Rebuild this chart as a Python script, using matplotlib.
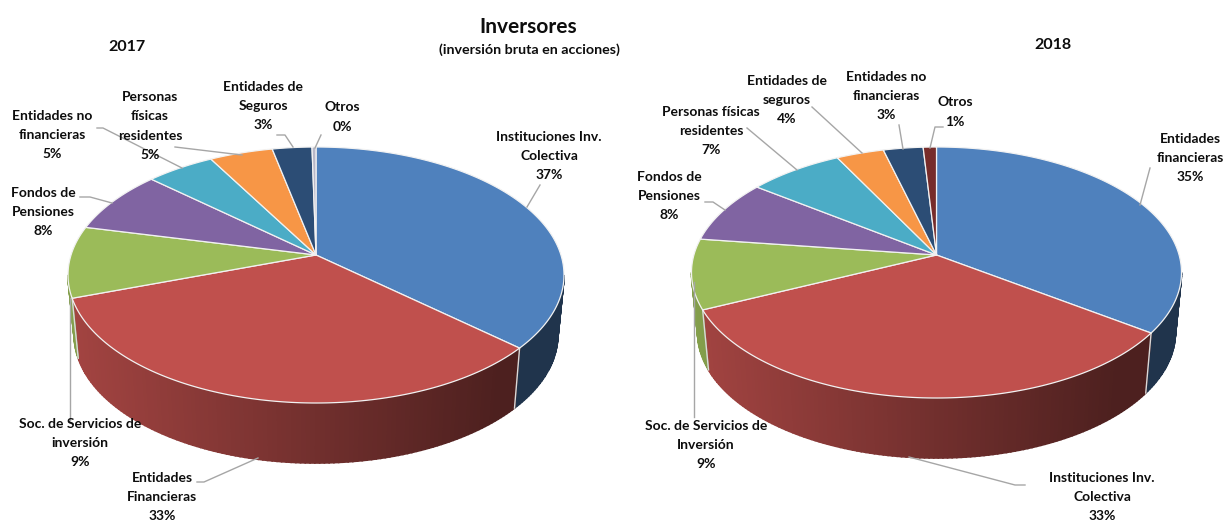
import numpy as np
import matplotlib
matplotlib.use('Agg')
import matplotlib.pyplot as plt

plt.rcParams['font.family'] = ['Lato', 'DejaVu Sans']

# valeurs
nombres_2017 = ['Instituciones Inv.\nColectiva', 'Entidades\nFinancieras', 'Soc. de Servicios de\ninversión',
                'Fondos de\nPensiones', 'Entidades no\nfinancieras', 'Personas\nfísicas\nresidentes',
                'Entidades de\nSeguros', 'Otros']
valores_2017 = [36.6, 33, 9, 8, 5.2, 4.8, 3, 0.3]
nombres_2018 = ['Entidades\nfinancieras', 'Instituciones Inv.\nColectiva', 'Soc. de Servicios de\nInversión',
                'Fondos de\nPensiones', 'Personas físicas\nresidentes', 'Entidades de\nseguros',
                'Entidades no\nfinancieras', 'Otros']
valores_2018 = [34.9, 33.2, 9, 8.1, 7.2, 3.6, 3, 1]

colores_2017 = ['#4F81BD', '#C0504D', '#9BBB59', '#8064A2', '#4BACC6', '#F79646', '#2C4D75', '#B7B7C8']
colores_2018 = ['#4F81BD', '#C0504D', '#9BBB59', '#8064A2', '#4BACC6', '#F79646', '#2C4D75', '#772C2A']

# position des etiquettes (pixels)
pos_2017 = [(549, 156), (162, 497), (80, 443), (43, 212), (52, 135), (150, 126), (263, 106), (342, 117)]
pos_2018 = [(1190, 158), (1102, 497), (706, 445), (669, 196), (711, 131), (787, 100), (886, 96), (955, 112)]

# lignes de rappel (pixels)
rappels = [
    [(540, 185), (527, 207)], [(258, 458), (204, 482), (197, 482)], [(70, 298), (70, 420)],
    [(80, 197), (90, 197), (112, 203)], [(97, 128), (103, 128), (182, 168)], [(175, 147), (242, 155)],
    [(277, 135), (285, 135), (293, 147)], [(321, 135), (315, 148)],
    [(1150, 168), (1140, 205)], [(909, 457), (1015, 485), (1025, 485)], [(694, 282), (694, 417)],
    [(705, 202), (713, 202), (725, 210)], [(747, 128), (797, 170)], [(812, 107), (862, 153)],
    [(899, 125), (903, 149)], [(943, 127), (935, 127), (930, 148)],
]


def projette(t, a):
    # perspective : le cercle reste un cercle mais le centre monte de a
    u, v = np.sin(t), np.cos(t)
    den = 1 + a * v
    return u * np.sqrt(1 - a ** 2) / den, (v + a) / den


def camembert(ax, valeurs, couleurs, cx, cy, rx, ry, a, h):
    valeurs = np.array(valeurs, dtype=float)
    bords = np.concatenate([[0], np.cumsum(valeurs)]) / valeurs.sum() * 2 * np.pi

    # le flanc d'abord
    for i in range(len(valeurs)):
        t = np.linspace(bords[i], bords[i + 1], max(2, int((bords[i + 1] - bords[i]) * 60)))
        X, Y = projette(t, a)
        for j in range(len(t) - 1):
            if Y[j] > 0 and Y[j + 1] > 0:
                continue
            Y0, Y1 = min(Y[j], 0), min(Y[j + 1], 0)
            f = np.interp(X[j], [-1, 0.75], [0.85, 0.40])
            rgb = np.array(matplotlib.colors.to_rgb(couleurs[i])) * f
            xs = [cx + rx * X[j], cx + rx * X[j + 1], cx + 0.975 * rx * X[j + 1], cx + 0.975 * rx * X[j]]
            ys = [cy - ry * Y0, cy - ry * Y1, cy - ry * Y1 + h, cy - ry * Y0 + h]
            ax.fill(xs, ys, color=rgb, lw=1.2, zorder=2)
        # arete claire entre deux parts
        X0, Y0 = projette(bords[i], a)
        if Y0 < 0 and i > 0:
            ax.plot([cx + rx * X0, cx + 0.975 * rx * X0], [cy - ry * Y0, cy - ry * Y0 + h],
                    color='#D9D9D9', lw=1, zorder=3)

    # le dessus
    for i in range(len(valeurs)):
        t = np.linspace(bords[i], bords[i + 1], 120)
        X, Y = projette(t, a)
        xs = np.concatenate([[cx], cx + rx * X])
        ys = np.concatenate([[cy - ry * a], cy - ry * Y])
        ax.fill(xs, ys, facecolor=couleurs[i], edgecolor='#F2F2F2', lw=0.9, joinstyle='round', zorder=4)


fig = plt.figure(figsize=(12.27, 5.24), dpi=100)
ax = fig.add_axes([0, 0, 1, 1])
ax.set_xlim(0, 1227)
ax.set_ylim(524, 0)
ax.axis('off')

camembert(ax, valores_2017, colores_2017, 316, 275, 248, 128, 20 / 128, 60)
camembert(ax, valores_2018, colores_2018, 936.5, 272.5, 245, 125.5, 17.5 / 125.5, 60)

for r in rappels:
    ax.plot([p[0] for p in r], [p[1] for p in r], color='#A6A6A6', lw=1, zorder=5)

for nombres, valores, posiciones in [(nombres_2017, valores_2017, pos_2017), (nombres_2018, valores_2018, pos_2018)]:
    for n, v, p in zip(nombres, valores, posiciones):
        ax.text(p[0], p[1], f'{n}\n{round(v)}%', ha='center', va='center', fontsize=10,
                fontweight='bold', color='#0D0D0D', linespacing=1.72, zorder=6)

ax.text(528, 27, 'Inversores', ha='center', va='center', fontsize=15, fontweight='bold', color='#0D0D0D')
ax.text(529, 50, '(inversión bruta en acciones)', ha='center', va='center', fontsize=10.3, fontweight='bold', color='#0D0D0D')
ax.text(127, 47, '2017', ha='center', va='center', fontsize=11.5, fontweight='bold', color='#0D0D0D')
ax.text(1053, 45, '2018', ha='center', va='center', fontsize=11.5, fontweight='bold', color='#0D0D0D')

plt.savefig('out.png', dpi=100)
plt.close()
